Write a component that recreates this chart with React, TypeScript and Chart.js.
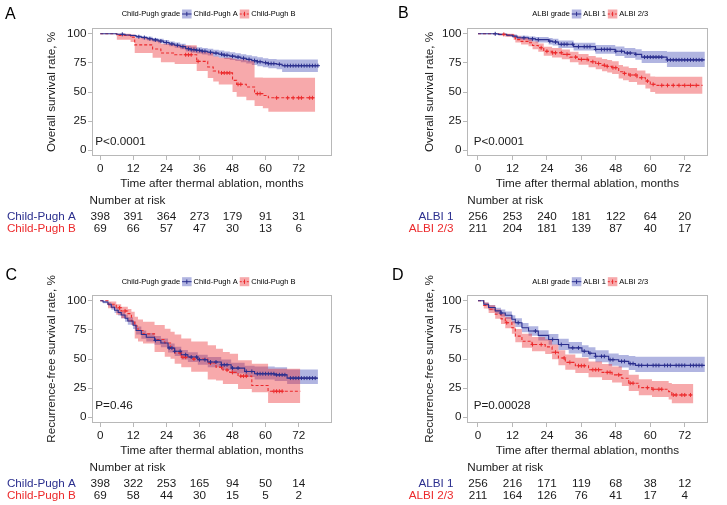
import React, { useEffect, useRef } from "react";
import { Chart, registerables } from "chart.js";

Chart.register(...registerables);

// ---------- shared axes ----------
const xTicks = [0, 12, 24, 36, 48, 60, 72];
const yTicks = [0, 25, 50, 75, 100];
const xTitle = "Time after thermal ablation, months";

// ---------- Panel A: overall survival by Child-Pugh grade ----------
const aBlueTime = [0, 6, 9, 11, 13, 15, 17, 19, 21, 23, 25, 27, 29, 31, 33, 35, 37, 39, 41, 43, 45, 47, 49, 51, 53, 55, 57, 59, 61, 64, 66, 79];
const aBlueSurv = [100, 99.6, 99, 98.5, 97.5, 96.8, 95.8, 94.8, 93.8, 92.6, 91.3, 90.2, 89, 87.2, 86.4, 85.8, 85, 84.2, 83.4, 82.5, 81.6, 80.8, 80, 79, 78, 77, 76, 75.2, 74.4, 73.8, 72.6, 72.6];
const aBlueLow = [100, 99, 98.2, 97.5, 96.3, 95.4, 94.3, 93.2, 92, 90.7, 89.3, 88, 86.7, 84.8, 83.8, 83.1, 82.2, 81.3, 80.4, 79.4, 78.4, 77.5, 76.6, 75.5, 74.4, 73.3, 72.2, 71.3, 70.4, 69.6, 67.2, 67.2];
const aBlueHigh = [100, 100, 99.7, 99.4, 98.7, 98.2, 97.4, 96.5, 95.7, 94.6, 93.4, 92.5, 91.4, 89.7, 89, 88.5, 87.8, 87.1, 86.4, 85.6, 84.8, 84.1, 83.4, 82.5, 81.6, 80.7, 79.8, 79.1, 78.4, 78, 78, 78];
const aBlueCensor = [8, 14, 16, 18, 20, 22, 24, 26, 28, 30, 32, 33, 34, 35, 36, 37, 38, 40, 42, 44, 45, 46, 48, 50, 52, 54, 56, 57, 58, 60, 61, 62, 63, 65, 67, 68, 69, 70, 71, 72, 73, 74, 75, 76, 77, 78, 79];

const aRedTime = [0, 6, 11, 12.5, 19, 22, 27, 35, 39, 41, 43, 48, 49.5, 53, 56, 59, 61, 78];
const aRedSurv = [100, 98.5, 97, 90.5, 87, 83.5, 82, 76.3, 71.5, 68, 66.4, 60, 56.6, 54.3, 48.6, 47, 45, 45];
const aRedLow = [100, 95, 93, 83.5, 79.5, 75.5, 74, 68, 62, 59, 56.5, 50, 46, 43, 38, 36, 33, 33];
const aRedHigh = [100, 100, 99.5, 96.5, 94.5, 91.5, 90.2, 85, 83.7, 80.5, 79.5, 78.5, 78, 77, 62.5, 62.3, 62.3, 62.3];
const aRedCensor = [31, 32, 33, 35.5, 44, 45, 46, 47, 50, 51, 57, 58, 64, 68, 70, 72, 73, 76, 77];

const aRiskBlue = [398, 391, 364, 273, 179, 91, 31];
const aRiskRed = [69, 66, 57, 47, 30, 13, 6];

// ---------- Panel B: overall survival by ALBI grade ----------
const bBlueTime = [0, 7, 10, 12, 13.6, 17.6, 20, 24.6, 26, 28, 33.3, 40.9, 47.8, 51, 54.8, 57, 65.8, 79];
const bBlueSurv = [100, 99.5, 98.8, 98, 96.6, 95.7, 95, 93.7, 93, 91, 89, 86.6, 85, 83.5, 82.3, 80, 77.6, 77.6];
const bBlueLow = [100, 98.8, 97.6, 96.5, 94.8, 93.5, 92.5, 90.9, 90, 87.8, 85.6, 82.8, 81, 79.2, 77.8, 75, 71.5, 71.5];
const bBlueHigh = [100, 100, 99.8, 99.5, 98.4, 97.8, 97.3, 96.3, 95.8, 94.2, 92.4, 90.4, 89, 87.8, 86.8, 85.3, 84.6, 84.6];
const bBlueCensor = [6, 16, 19, 21, 25, 27, 29, 30, 31, 33, 35, 37, 38, 39, 41, 43, 44, 45, 46, 48, 50, 52, 53, 55, 58, 59, 60, 61, 62, 63, 64, 66, 67, 68, 69, 70, 71, 72, 73, 74, 75, 76, 77, 78];

const bRedTime = [0, 7.2, 9.5, 12.4, 13, 15, 17.6, 19, 21, 22.9, 25.8, 29.2, 32, 35, 38.5, 41, 43.2, 45, 46.7, 49, 50.5, 52.5, 55.4, 58.3, 60, 61.7, 78.2];
const bRedSurv = [100, 99.5, 98.9, 97, 95, 93.5, 92.3, 90, 88, 85, 83.7, 82.3, 80, 78, 76, 74.5, 73, 72, 70.9, 67.4, 66, 64.6, 62.3, 59.4, 56.6, 55.7, 55.7];
const bRedLow = [100, 98.5, 97.5, 94.8, 92.5, 90.8, 89.3, 86.7, 84.5, 81.2, 79.7, 78.1, 75.6, 73.4, 71.2, 69.5, 67.8, 66.7, 65.5, 61.7, 60.2, 58.7, 56.2, 53.1, 50, 48.5, 48.5];
const bRedHigh = [100, 100, 100, 99.2, 97.9, 96.4, 95.4, 93.4, 91.6, 88.9, 87.8, 86.6, 84.5, 82.7, 80.9, 79.6, 78.3, 77.4, 76.5, 73.3, 71.9, 70.6, 68.5, 65.8, 63.3, 63, 63];
const bRedCensor = [9, 22, 24, 26, 27, 29, 31, 34, 36, 38, 40, 42, 44, 45, 47, 48, 51, 53, 55, 57, 59, 61, 64, 66, 68, 70, 72, 74, 76];

const bRiskBlue = [256, 253, 240, 181, 122, 64, 20];
const bRiskRed = [211, 204, 181, 139, 87, 40, 17];

// ---------- Panel C: recurrence-free survival by Child-Pugh grade ----------
const cBlueTime = [0, 1, 2.8, 4, 5.2, 6.5, 7.6, 9, 10, 11.9, 13, 14.9, 16.7, 19.7, 22, 24.6, 27, 29.4, 31.8, 35.4, 39, 43.9, 47.5, 52.4, 56, 63.3, 67.8, 79];
const cBlueSurv = [100, 99, 97, 94.5, 91.9, 90, 87.8, 85, 82.6, 79, 74.5, 71, 68.7, 66, 63.8, 59.5, 56.6, 53.7, 51.7, 49.4, 47.4, 45, 42.2, 39.3, 37.3, 36.4, 33.6, 33.6];
const cBlueLow = [100, 98, 95.3, 92.4, 89.5, 87.4, 85, 82, 79.4, 75.7, 71.1, 67.5, 65.1, 62.3, 60, 55.6, 52.6, 49.6, 47.5, 45.1, 43, 40.5, 37.6, 34.5, 32.3, 31.2, 28.5, 28.5];
const cBlueHigh = [100, 100, 98.7, 96.6, 94.3, 92.6, 90.6, 88, 85.8, 82.3, 77.9, 74.5, 72.3, 69.7, 67.6, 63.4, 60.6, 57.8, 55.9, 53.7, 51.8, 49.5, 46.8, 44.3, 43.5, 43, 41, 41];
const cBlueCensor = [20, 25, 26, 27, 29, 31, 33, 35, 36, 38, 40, 42, 44, 45, 46, 48, 50, 53, 55, 57, 58, 59, 60, 61, 62, 63, 64, 65, 66, 67, 69, 70, 71, 72, 73, 74, 75, 76, 77, 78];

const cRedTime = [0, 2.8, 5.8, 7.6, 10, 11.3, 12.5, 13.7, 15.5, 19.7, 23.4, 25.5, 27, 29.4, 33, 39, 42, 44.5, 47, 50, 55, 60.9, 72.6];
const cRedSurv = [100, 97, 94, 91.3, 89, 82.6, 78.3, 74.5, 71.6, 66.7, 63.8, 59, 55.2, 51.5, 50, 46.5, 43, 40.5, 38.5, 35.3, 27.2, 22.3, 22.3];
const cRedLow = [100, 93.6, 88, 85, 82, 79.2, 67.6, 65, 63.3, 56, 52, 50.3, 46, 43, 39, 32.4, 31.5, 28.6, 28.6, 24.3, 21.4, 12.1, 12.1];
const cRedHigh = [100, 99.5, 97, 95, 93, 90.7, 86.4, 84, 82, 79.2, 76, 73.4, 71, 67.6, 65, 61.9, 58.9, 56, 54.6, 48.9, 45.9, 41.6, 41.6];
const cRedCensor = [7, 9, 29, 30, 31, 34, 40, 44, 46, 48, 51, 52, 53, 63, 64, 65, 66];

const cRiskBlue = [398, 322, 253, 165, 94, 50, 14];
const cRiskRed = [69, 58, 44, 30, 15, 5, 2];

// ---------- Panel D: recurrence-free survival by ALBI grade ----------
const dBlueTime = [0, 2, 3.7, 6, 8, 9.5, 11.8, 13, 15.3, 17.6, 21, 24.6, 28, 31.6, 36.2, 38.5, 40.9, 45.5, 49, 52.5, 54.8, 79];
const dBlueSurv = [100, 97, 94.2, 91.4, 89.5, 87.6, 84.1, 81.2, 76.9, 74, 70.3, 66.8, 62.4, 59.6, 56.7, 55, 52.3, 49.4, 48, 46, 44.5, 44.5];
const dBlueLow = [100, 95.5, 92, 88.8, 86.6, 84.4, 80.7, 77.6, 73, 69.9, 66, 62.3, 57.7, 54.7, 51.7, 49.9, 47.1, 44.1, 42.6, 40.5, 38.8, 38.8];
const dBlueHigh = [100, 98.6, 96.5, 94.1, 92.5, 90.9, 87.6, 85, 80.9, 78.2, 74.7, 71.5, 67.3, 64.6, 61.9, 60.2, 57.6, 54.8, 53.5, 52.5, 52, 52];
const dBlueCensor = [8, 14, 20, 26, 29, 33, 35, 37, 39, 41, 43, 44, 46, 47, 50, 51, 53, 54, 56, 57, 59, 61, 62, 63, 65, 66, 67, 69, 70, 71, 72, 74, 75, 76, 77, 78];

const dRedTime = [0, 2, 3.7, 6, 8, 9.5, 11.8, 13, 15.3, 18.8, 23.4, 25.8, 28, 30.4, 33.9, 38.5, 43.2, 46.7, 50.1, 52.5, 56, 60.6, 66.4, 67.5, 75];
const dRedSurv = [100, 96, 92.8, 88.5, 84.5, 81.2, 76.9, 69.7, 65.3, 62.4, 60.4, 55.8, 50.9, 47.1, 44.2, 40.8, 38.5, 36.4, 33.5, 29.2, 25.4, 24, 22, 19.1, 19.1];
const dRedLow = [100, 93.5, 89.6, 84.6, 80.1, 76.5, 71.8, 64.3, 59.7, 56.6, 54.4, 49.7, 44.7, 40.8, 37.9, 34.4, 32, 29.8, 26.9, 22.6, 18.8, 17.4, 15.2, 12, 12];
const dRedHigh = [100, 98.6, 96.1, 92.6, 89.2, 86.2, 82.4, 75.7, 71.6, 68.8, 66.9, 62.4, 57.6, 53.9, 51.1, 47.8, 45.6, 43.6, 40.6, 36.4, 32.6, 31.2, 29.3, 28.5, 28.5];
const dRedCensor = [10, 19, 22, 27, 30, 32, 35, 36, 37, 40, 41, 42, 45, 46, 49, 53, 54, 59, 61, 63, 64, 68, 69, 71, 72, 74];

const dRiskBlue = [256, 216, 171, 119, 68, 38, 12];
const dRiskRed = [211, 164, 126, 76, 41, 17, 4];

// ---------- styles ----------
const FONT = '"Liberation Sans", Arial, sans-serif';
const BLUE = "#2B2F8E";
const RED = "#EC2A2C";
const BLUE_BAND = "rgba(60,70,180,0.40)";
const RED_BAND = "rgba(236,40,46,0.40)";
const FRAME = "#b8b8b8";
const TXT = "#1a1a1a";

type Curve = { time: number[]; surv: number[]; low: number[]; high: number[]; censor: number[] };

const curve = (time: number[], surv: number[], low: number[], high: number[], censor: number[]): Curve => ({ time, surv, low, high, censor });

const panels = [
  {
    letter: "A", left: 0, top: 0, width: 363, height: 250, area: [92, 28, 332, 156],
    xMin: -3.0, xMax: 84.1, yTitle: "Overall survival rate, %", yTitleX: 51.7,
    letterX: 5, letterY: 15, legendX: 121.7, legendY: 14,
    legendTitle: "Child-Pugh grade", names: ["Child-Pugh A", "Child-Pugh B"],
    blue: curve(aBlueTime, aBlueSurv, aBlueLow, aBlueHigh, aBlueCensor),
    red: curve(aRedTime, aRedSurv, aRedLow, aRedHigh, aRedCensor),
    riskBlue: aRiskBlue, riskRed: aRiskRed, pText: "P<0.0001", pX: -1.8, pY: 7.6,
  },
  {
    letter: "B", left: 363, top: 0, width: 364, height: 250, area: [104, 28, 345, 156],
    xMin: -3.83, xMax: 80.1, yTitle: "Overall survival rate, %", yTitleX: 66.7,
    letterX: 35, letterY: 13.5, legendX: 169.3, legendY: 14,
    legendTitle: "ALBI grade", names: ["ALBI 1", "ALBI 2/3"],
    blue: curve(bBlueTime, bBlueSurv, bBlueLow, bBlueHigh, bBlueCensor),
    red: curve(bRedTime, bRedSurv, bRedLow, bRedHigh, bRedCensor),
    riskBlue: bRiskBlue, riskRed: bRiskRed, pText: "P<0.0001", pX: -1.5, pY: 7.6,
  },
  {
    letter: "C", left: 0, top: 250, width: 363, height: 255, area: [92, 45, 332, 173],
    xMin: -3.0, xMax: 84.1, yTitle: "Recurrence-free survival rate, %", yTitleX: 51.7,
    letterX: 5.5, letterY: 26, legendX: 121.7, legendY: 31.7,
    legendTitle: "Child-Pugh grade", names: ["Child-Pugh A", "Child-Pugh B"],
    blue: curve(cBlueTime, cBlueSurv, cBlueLow, cBlueHigh, cBlueCensor),
    red: curve(cRedTime, cRedSurv, cRedLow, cRedHigh, cRedCensor),
    riskBlue: cRiskBlue, riskRed: cRiskRed, pText: "P=0.46", pX: -1.8, pY: 10,
  },
  {
    letter: "D", left: 363, top: 250, width: 364, height: 255, area: [104, 45, 345, 173],
    xMin: -3.83, xMax: 80.1, yTitle: "Recurrence-free survival rate, %", yTitleX: 66.7,
    letterX: 29, letterY: 26, legendX: 169.3, legendY: 31.7,
    legendTitle: "ALBI grade", names: ["ALBI 1", "ALBI 2/3"],
    blue: curve(dBlueTime, dBlueSurv, dBlueLow, dBlueHigh, dBlueCensor),
    red: curve(dRedTime, dRedSurv, dRedLow, dRedHigh, dRedCensor),
    riskBlue: dRiskBlue, riskRed: dRiskRed, pText: "P=0.00028", pX: -1.5, pY: 10,
  },
];

type Panel = (typeof panels)[number];

const pts = (t: number[], v: number[]) => t.map((x, i) => ({ x, y: v[i] }));

function survAt(c: Curve, t: number) {
  let v = c.surv[0];
  for (let i = 0; i < c.time.length; i++) {
    if (c.time[i] <= t) v = c.surv[i];
  }
  return v;
}

function bandSets(c: Curve, color: string, order: number) {
  return [
    { data: pts(c.time, c.low), stepped: "before", borderColor: "rgba(0,0,0,0)", borderWidth: 0, pointRadius: 0, fill: false, order },
    { data: pts(c.time, c.high), stepped: "before", borderColor: "rgba(0,0,0,0)", borderWidth: 0, pointRadius: 0, fill: "-1", backgroundColor: color, order },
  ];
}

function lineSet(c: Curve, color: string, dashed: boolean) {
  return {
    data: pts(c.time, c.surv), stepped: "before", borderColor: color, borderWidth: 1.1,
    borderDash: dashed ? [3, 2] : [], pointRadius: 0, fill: false, order: 1,
  };
}

function censorSet(c: Curve, color: string) {
  return {
    data: c.censor.map((t) => ({ x: t, y: survAt(c, t) })), showLine: false,
    pointStyle: "cross", pointRadius: 2, pointBorderWidth: 1, pointBorderColor: color,
    borderColor: color, backgroundColor: color, order: 0,
  };
}

function decor(p: Panel) {
  return {
    id: "decor" + p.letter,
    afterDraw(chart: any) {
      const { ctx, chartArea: ca } = chart;
      const xs = chart.scales.x;
      const ys = chart.scales.y;
      ctx.save();
      // panel frame
      ctx.strokeStyle = FRAME;
      ctx.lineWidth = 1;
      ctx.setLineDash([]);
      ctx.strokeRect(ca.left + 0.5, ca.top + 0.5, ca.right - ca.left - 1, ca.bottom - ca.top - 1);

      // panel letter
      ctx.fillStyle = "#000";
      ctx.textBaseline = "middle";
      ctx.textAlign = "left";
      ctx.font = `16px ${FONT}`;
      ctx.fillText(p.letter, p.letterX, p.letterY);

      // legend
      ctx.font = `7.5px ${FONT}`;
      let lx = p.legendX;
      const ly = p.legendY;
      ctx.fillStyle = "#000";
      ctx.fillText(p.legendTitle, lx, ly);
      lx += ctx.measureText(p.legendTitle).width + 2;
      const keys = [
        { name: p.names[0], line: BLUE, band: BLUE_BAND, dash: [] as number[] },
        { name: p.names[1], line: RED, band: RED_BAND, dash: [2, 1.5] },
      ];
      keys.forEach((k) => {
        const kw = 9.5;
        ctx.fillStyle = k.band;
        ctx.fillRect(lx, ly - 4.5, kw, 9);
        ctx.strokeStyle = k.line;
        ctx.lineWidth = 1;
        ctx.setLineDash(k.dash);
        ctx.beginPath();
        ctx.moveTo(lx, ly);
        ctx.lineTo(lx + kw, ly);
        ctx.stroke();
        ctx.setLineDash([]);
        ctx.beginPath();
        ctx.moveTo(lx + kw / 2, ly - 2.2);
        ctx.lineTo(lx + kw / 2, ly + 2.2);
        ctx.stroke();
        lx += kw + 2;
        ctx.fillStyle = "#000";
        ctx.fillText(k.name, lx, ly);
        lx += ctx.measureText(k.name).width + 2;
      });

      // p-value
      ctx.font = `11.7px ${FONT}`;
      ctx.fillStyle = TXT;
      ctx.fillText(p.pText, xs.getPixelForValue(p.pX), ys.getPixelForValue(p.pY));

      // risk table
      const x0 = xs.getPixelForValue(0);
      const yNar = ca.bottom + 44.5;
      const y1 = ca.bottom + 61;
      const y2 = ca.bottom + 72.8;
      ctx.fillStyle = TXT;
      ctx.textAlign = "left";
      ctx.fillText("Number at risk", x0 - 10.8, yNar);
      ctx.textAlign = "right";
      ctx.fillStyle = BLUE;
      ctx.fillText(p.names[0], x0 - 24.5, y1);
      ctx.fillStyle = RED;
      ctx.fillText(p.names[1], x0 - 24.5, y2);
      ctx.textAlign = "center";
      ctx.fillStyle = TXT;
      xTicks.forEach((t, i) => {
        const px = xs.getPixelForValue(t);
        ctx.fillText(String(p.riskBlue[i]), px, y1);
        ctx.fillText(String(p.riskRed[i]), px, y2);
      });
      ctx.restore();
    },
  };
}

function PanelChart({ p }: { p: Panel }) {
  const ref = useRef<HTMLCanvasElement | null>(null);
  useEffect(() => {
    const canvas = ref.current;
    if (!canvas) return;
    const [L, T, R, B] = p.area;
    const xAxisH = 35;
    const config: any = {
      type: "line",
      data: {
        datasets: [
          ...bandSets(p.blue, BLUE_BAND, 3),
          ...bandSets(p.red, RED_BAND, 2),
          lineSet(p.blue, BLUE, false),
          lineSet(p.red, RED, true),
          censorSet(p.blue, BLUE),
          censorSet(p.red, RED),
        ],
      },
      options: {
        animation: false,
        responsive: false,
        devicePixelRatio: 1,
        events: [],
        layout: { padding: { left: 0, top: T, right: p.width - R, bottom: p.height - B - xAxisH } },
        plugins: { legend: { display: false }, tooltip: { enabled: false }, title: { display: false } },
        scales: {
          x: {
            type: "linear", min: p.xMin, max: p.xMax,
            afterBuildTicks: (s: any) => { s.ticks = xTicks.map((v) => ({ value: v })); },
            afterFit: (s: any) => { s.height = xAxisH; },
            grid: { drawOnChartArea: false, drawTicks: true, tickLength: 4, color: FRAME },
            border: { display: false },
            ticks: { autoSkip: false, maxRotation: 0, padding: 1.4, color: TXT, font: { family: FONT, size: 11.7 } },
            title: { display: true, text: xTitle, color: TXT, padding: { top: 0, bottom: 0 }, font: { family: FONT, size: 11.7 } },
          },
          y: {
            type: "linear", min: -5, max: 105,
            afterBuildTicks: (s: any) => { s.ticks = yTicks.map((v) => ({ value: v })); },
            afterFit: (s: any) => { s.width = L; },
            grid: { drawOnChartArea: false, drawTicks: true, tickLength: 4, color: FRAME },
            border: { display: false },
            ticks: { padding: 1.5, color: TXT, font: { family: FONT, size: 11.7 } },
            title: { display: true, text: p.yTitle, color: TXT, padding: { top: p.yTitleX - 7.02, bottom: 0 }, font: { family: FONT, size: 11.7 } },
          },
        },
      },
      plugins: [decor(p)],
    };
    const chart = new Chart(canvas, config);
    return () => chart.destroy();
  }, [p]);
  return (
    <canvas
      ref={ref}
      width={p.width}
      height={p.height}
      style={{ position: "absolute", left: p.left, top: p.top, width: p.width, height: p.height }}
    />
  );
}

export default function App() {
  return (
    <div style={{ position: "absolute", left: 0, top: 0, width: 727, height: 505, background: "#fff", overflow: "hidden" }}>
      {panels.map((p) => (
        <PanelChart key={p.letter} p={p} />
      ))}
    </div>
  );
}
